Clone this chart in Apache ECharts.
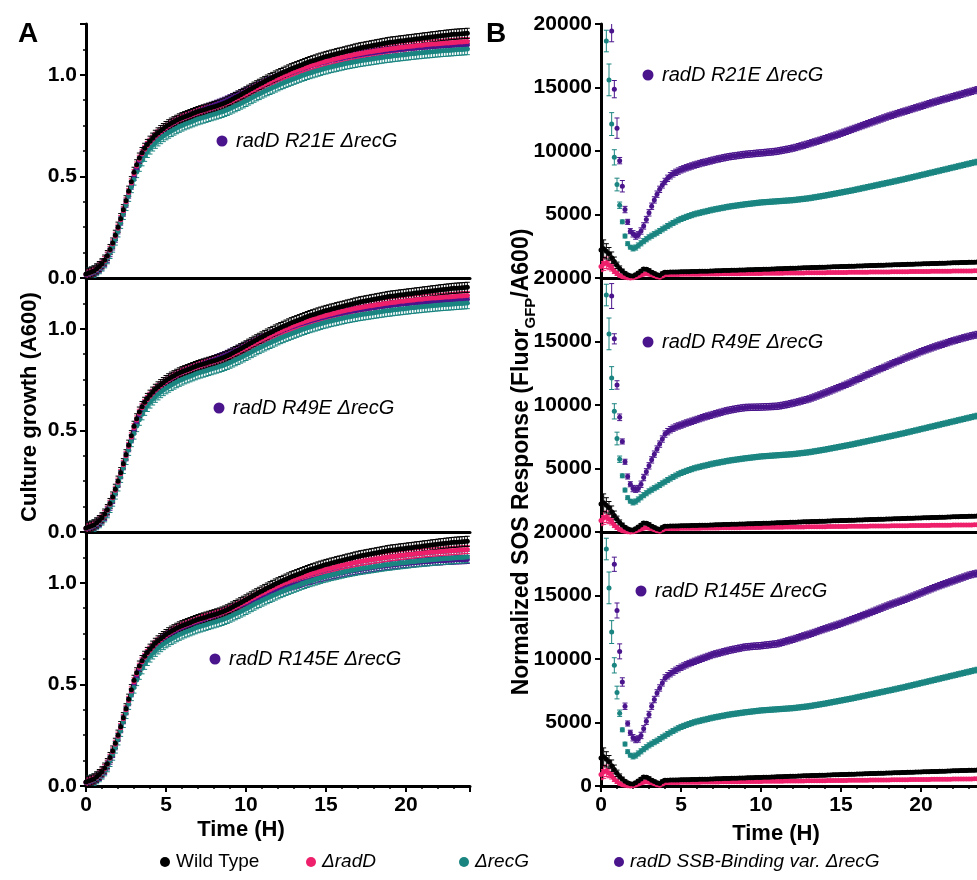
<!DOCTYPE html>
<html>
<head>
<meta charset="utf-8">
<script src="https://cdn.jsdelivr.net/npm/echarts@6/dist/echarts.min.js"></script>
<style>
  html, body { margin: 0; padding: 0; background: #fff; }
  #chart { width: 977px; height: 880px; }
</style>
</head>
<body>
<div id="chart"></div>
<script>
// sampling times (minutes), one reading every 10 min
const minutes = [
  0,10,20,30,40,50,60,70,80,90,
  100,110,120,130,140,150,160,170,180,190,
  200,210,220,230,240,250,260,270,280,290,
  300,310,320,330,340,350,360,370,380,390,
  400,410,420,430,440,450,460,470,480,490,
  500,510,520,530,540,550,560,570,580,590,
  600,610,620,630,640,650,660,670,680,690,
  700,710,720,730,740,750,760,770,780,790,
  800,810,820,830,840,850,860,870,880,890,
  900,910,920,930,940,950,960,970,980,990,
  1000,1010,1020,1030,1040,1050,1060,1070,1080,1090,
  1100,1110,1120,1130,1140,1150,1160,1170,1180,1190,
  1200,1210,1220,1230,1240,1250,1260,1270,1280,1290,
  1300,1310,1320,1330,1340,1350,1360,1370,1380,1390,
  1400,1410,1420,1430
];

const seriesNames = ["Wild Type", "ΔradD", "ΔrecG", "radD SSB-Binding var. ΔrecG"];
const variantNames = ["radD R21E ΔrecG", "radD R49E ΔrecG", "radD R145E ΔrecG"];

// ---- culture growth (A600) ----
const growthWT = [
  0.020,0.024,0.029,0.035,0.045,0.056,0.070,0.088,0.110,0.140,
  0.172,0.210,0.250,0.292,0.336,0.380,0.427,0.474,0.520,0.557,
  0.590,0.617,0.638,0.657,0.673,0.688,0.702,0.714,0.725,0.735,
  0.745,0.754,0.762,0.769,0.776,0.783,0.789,0.794,0.799,0.804,
  0.809,0.814,0.819,0.823,0.827,0.831,0.835,0.839,0.843,0.847,
  0.851,0.856,0.861,0.867,0.874,0.881,0.888,0.895,0.902,0.909,
  0.916,0.924,0.931,0.939,0.946,0.953,0.960,0.967,0.974,0.981,
  0.987,0.994,1.000,1.006,1.012,1.018,1.024,1.030,1.035,1.040,
  1.045,1.050,1.055,1.060,1.065,1.069,1.073,1.078,1.082,1.086,
  1.090,1.093,1.097,1.100,1.104,1.107,1.110,1.113,1.117,1.120,
  1.123,1.127,1.130,1.133,1.135,1.138,1.140,1.143,1.145,1.148,
  1.150,1.153,1.155,1.158,1.160,1.162,1.163,1.165,1.167,1.168,
  1.170,1.172,1.173,1.175,1.177,1.178,1.180,1.182,1.183,1.185,
  1.187,1.188,1.190,1.192,1.193,1.195,1.196,1.198,1.199,1.200,
  1.201,1.202,1.203,1.204
];
const growthRadD = [
  0.019,0.023,0.028,0.034,0.043,0.054,0.068,0.085,0.107,0.136,
  0.168,0.205,0.245,0.287,0.331,0.375,0.421,0.468,0.513,0.551,
  0.584,0.611,0.633,0.652,0.668,0.683,0.697,0.709,0.720,0.731,
  0.741,0.750,0.758,0.766,0.773,0.780,0.786,0.791,0.796,0.801,
  0.806,0.811,0.816,0.820,0.824,0.828,0.832,0.836,0.840,0.844,
  0.848,0.852,0.857,0.862,0.868,0.874,0.881,0.887,0.894,0.900,
  0.907,0.914,0.921,0.928,0.935,0.941,0.948,0.954,0.961,0.967,
  0.973,0.979,0.985,0.991,0.996,1.002,1.007,1.012,1.017,1.022,
  1.027,1.031,1.036,1.040,1.044,1.048,1.052,1.056,1.060,1.063,
  1.067,1.070,1.073,1.077,1.080,1.083,1.086,1.089,1.092,1.094,
  1.097,1.100,1.102,1.105,1.107,1.110,1.112,1.114,1.116,1.118,
  1.120,1.122,1.124,1.126,1.128,1.130,1.131,1.133,1.135,1.136,
  1.138,1.139,1.141,1.142,1.144,1.145,1.146,1.148,1.149,1.150,
  1.151,1.152,1.153,1.154,1.155,1.156,1.157,1.158,1.159,1.160,
  1.161,1.162,1.163,1.164
];
const growthRecG = [
  0.018,0.021,0.026,0.031,0.039,0.049,0.062,0.078,0.098,0.124,
  0.155,0.190,0.230,0.272,0.316,0.360,0.405,0.448,0.485,0.522,
  0.553,0.580,0.602,0.621,0.638,0.653,0.666,0.678,0.689,0.699,
  0.708,0.716,0.724,0.731,0.738,0.745,0.751,0.757,0.762,0.767,
  0.772,0.777,0.782,0.786,0.790,0.794,0.798,0.802,0.806,0.810,
  0.814,0.818,0.823,0.828,0.834,0.840,0.846,0.852,0.859,0.865,
  0.872,0.879,0.886,0.893,0.900,0.906,0.913,0.919,0.925,0.931,
  0.937,0.943,0.949,0.955,0.960,0.966,0.971,0.976,0.981,0.986,
  0.991,0.996,1.000,1.005,1.009,1.013,1.017,1.021,1.025,1.029,
  1.032,1.036,1.039,1.042,1.045,1.048,1.051,1.054,1.057,1.059,
  1.062,1.064,1.067,1.069,1.071,1.073,1.075,1.077,1.079,1.081,
  1.083,1.085,1.087,1.089,1.090,1.092,1.094,1.095,1.097,1.098,
  1.100,1.101,1.103,1.104,1.106,1.107,1.108,1.110,1.111,1.112,
  1.113,1.115,1.116,1.117,1.118,1.119,1.120,1.121,1.122,1.123,
  1.124,1.125,1.126,1.127
];
const growthR21E = [
  0.015,0.018,0.022,0.028,0.036,0.046,0.059,0.076,0.097,0.125,
  0.158,0.196,0.237,0.280,0.324,0.368,0.413,0.457,0.500,0.540,
  0.575,0.604,0.627,0.647,0.664,0.680,0.694,0.707,0.719,0.730,
  0.740,0.749,0.758,0.766,0.773,0.780,0.787,0.793,0.799,0.805,
  0.810,0.815,0.820,0.825,0.830,0.835,0.840,0.845,0.850,0.855,
  0.860,0.865,0.870,0.876,0.882,0.888,0.894,0.900,0.906,0.912,
  0.918,0.924,0.930,0.936,0.942,0.948,0.954,0.960,0.966,0.972,
  0.977,0.983,0.988,0.993,0.998,1.003,1.008,1.013,1.018,1.022,
  1.027,1.031,1.035,1.039,1.043,1.047,1.051,1.054,1.058,1.061,
  1.064,1.068,1.071,1.074,1.077,1.079,1.082,1.085,1.087,1.090,
  1.092,1.094,1.097,1.099,1.101,1.103,1.105,1.107,1.109,1.111,
  1.113,1.114,1.116,1.118,1.119,1.121,1.122,1.124,1.125,1.126,
  1.128,1.129,1.130,1.131,1.132,1.133,1.134,1.135,1.136,1.137,
  1.138,1.139,1.140,1.141,1.142,1.142,1.143,1.144,1.145,1.145,
  1.146,1.147,1.147,1.148
];
const growthR49E = [
  0.016,0.019,0.023,0.029,0.037,0.047,0.060,0.077,0.099,0.127,
  0.160,0.198,0.239,0.282,0.326,0.370,0.415,0.459,0.502,0.541,
  0.576,0.605,0.628,0.648,0.665,0.680,0.694,0.707,0.718,0.729,
  0.739,0.748,0.757,0.765,0.772,0.779,0.786,0.792,0.798,0.803,
  0.808,0.813,0.818,0.823,0.828,0.833,0.838,0.843,0.848,0.853,
  0.858,0.863,0.868,0.874,0.880,0.886,0.892,0.898,0.904,0.910,
  0.916,0.922,0.928,0.934,0.940,0.946,0.952,0.957,0.963,0.968,
  0.974,0.979,0.984,0.989,0.994,0.999,1.004,1.009,1.013,1.018,
  1.022,1.026,1.030,1.034,1.038,1.042,1.046,1.049,1.053,1.056,
  1.059,1.063,1.066,1.069,1.072,1.074,1.077,1.080,1.082,1.085,
  1.087,1.089,1.092,1.094,1.096,1.098,1.100,1.102,1.104,1.106,
  1.108,1.110,1.111,1.113,1.115,1.116,1.118,1.119,1.121,1.122,
  1.123,1.125,1.126,1.127,1.128,1.129,1.130,1.131,1.132,1.133,
  1.134,1.135,1.136,1.137,1.138,1.139,1.140,1.140,1.141,1.142,
  1.143,1.143,1.144,1.145
];
const growthR145E = [
  0.016,0.019,0.023,0.029,0.037,0.047,0.060,0.077,0.099,0.127,
  0.160,0.198,0.239,0.282,0.326,0.370,0.415,0.459,0.502,0.541,
  0.576,0.605,0.628,0.648,0.665,0.680,0.694,0.706,0.717,0.727,
  0.736,0.745,0.753,0.760,0.767,0.774,0.780,0.786,0.791,0.796,
  0.801,0.806,0.811,0.815,0.820,0.824,0.829,0.833,0.838,0.842,
  0.847,0.852,0.857,0.862,0.867,0.873,0.878,0.884,0.890,0.895,
  0.901,0.906,0.912,0.917,0.923,0.928,0.933,0.938,0.943,0.948,
  0.953,0.958,0.963,0.967,0.972,0.976,0.981,0.985,0.989,0.993,
  0.997,1.001,1.005,1.009,1.012,1.016,1.019,1.023,1.026,1.029,
  1.032,1.035,1.038,1.041,1.044,1.047,1.049,1.052,1.054,1.057,
  1.059,1.061,1.064,1.066,1.068,1.070,1.072,1.074,1.076,1.078,
  1.080,1.081,1.083,1.085,1.086,1.088,1.089,1.091,1.092,1.094,
  1.095,1.096,1.097,1.099,1.100,1.101,1.102,1.103,1.104,1.105,
  1.106,1.107,1.108,1.108,1.109,1.110,1.111,1.111,1.112,1.113,
  1.113,1.114,1.114,1.115
];
// SD of growth readings (A600), per strain: WT, radD, recG, variant
const growthSD = [0.025, 0.02, 0.028, 0.02];

// ---- normalized SOS response (Fluor GFP / A600) ----
const sosWT = [
  2200,2300,2100,1900,1600,1300,1000,750,550,380,
  250,170,150,250,400,550,700,680,600,450,
  350,250,200,350,450,460,465,470,475,480,
  485,490,495,500,505,510,515,522,528,535,
  541,548,555,562,568,575,582,588,595,602,
  608,615,622,628,635,642,648,655,662,668,
  675,682,690,698,706,714,722,730,738,746,
  754,762,770,777,784,791,798,805,812,819,
  826,833,840,847,855,862,869,876,883,890,
  897,904,911,918,925,932,940,947,954,961,
  968,975,982,989,996,1003,1010,1017,1024,1031,
  1038,1045,1052,1059,1066,1073,1080,1087,1094,1101,
  1108,1115,1122,1129,1136,1143,1150,1157,1164,1171,
  1178,1185,1192,1199,1206,1213,1220,1227,1234,1240,
  1246,1252,1258,1264
];
const sosRadD = [
  900,1100,1200,1000,800,550,350,200,100,50,
  20,0,20,80,150,230,300,330,300,250,
  180,100,60,150,250,270,275,278,281,284,
  287,290,292,295,297,300,302,305,307,310,
  312,315,317,320,322,325,327,330,332,335,
  337,340,342,345,347,350,352,355,357,360,
  362,365,367,370,372,375,377,380,382,385,
  387,390,392,395,397,400,402,405,407,410,
  412,415,417,420,422,425,427,430,432,435,
  437,440,442,445,447,450,452,455,457,460,
  462,465,467,470,472,475,477,480,482,485,
  487,490,492,495,497,500,502,505,507,510,
  512,515,517,520,522,525,527,530,532,535,
  537,540,542,545,547,550,552,555,557,560,
  562,565,567,570
];
const sosRecG = [
  null,null,18660,15600,12120,9500,7360,5730,4420,3300,
  2700,2430,2330,2400,2560,2730,2900,3050,3200,3330,
  3450,3570,3700,3830,3960,4090,4210,4330,4440,4550,
  4650,4730,4810,4880,4950,5020,5080,5130,5180,5230,
  5280,5330,5380,5420,5460,5500,5540,5580,5620,5650,
  5680,5710,5740,5770,5800,5825,5850,5875,5900,5925,
  5950,5965,5980,5995,6010,6025,6040,6055,6070,6085,
  6100,6115,6130,6155,6180,6205,6230,6255,6280,6315,
  6350,6385,6420,6455,6490,6530,6570,6610,6650,6690,
  6730,6770,6810,6850,6890,6935,6980,7025,7070,7115,
  7160,7205,7250,7295,7340,7385,7430,7475,7520,7565,
  7610,7660,7705,7750,7800,7850,7900,7950,8000,8050,
  8100,8150,8200,8250,8300,8350,8400,8450,8500,8550,
  8600,8650,8700,8750,8800,8850,8900,8950,9000,9050,
  9100,9150,9200,9250
];
const sosR21E = [
  null,null,null,null,19450,14870,11800,9240,7225,5390,
  4420,3690,3480,3300,3400,3700,4100,4600,5130,5650,
  6150,6600,6980,7330,7600,7850,8050,8200,8320,8420,
  8520,8600,8680,8750,8820,8890,8950,9010,9070,9120,
  9170,9220,9280,9330,9375,9420,9465,9510,9550,9580,
  9610,9640,9670,9700,9730,9750,9770,9790,9810,9830,
  9850,9870,9890,9910,9930,9955,9980,10020,10060,10100,
  10140,10180,10230,10280,10340,10400,10460,10520,10580,10645,
  10710,10775,10840,10905,10970,11040,11110,11180,11250,11320,
  11400,11475,11550,11625,11700,11775,11850,11925,12000,12075,
  12150,12225,12300,12375,12450,12525,12600,12675,12750,12815,
  12880,12945,13010,13075,13140,13205,13270,13335,13400,13465,
  13530,13595,13660,13725,13790,13855,13920,13980,14040,14100,
  14160,14220,14280,14340,14400,14460,14520,14580,14640,14700,
  14760,14820,14880,14940
];
const sosR49E = [
  null,null,null,null,18580,15210,11580,9030,7130,5530,
  4370,3760,3420,3370,3420,3760,4290,4740,5210,5680,
  6130,6530,6920,7320,7710,7900,8050,8170,8270,8350,
  8420,8500,8580,8650,8720,8790,8860,8930,9000,9070,
  9130,9190,9250,9310,9370,9430,9490,9540,9590,9630,
  9670,9710,9740,9770,9800,9810,9815,9820,9825,9830,
  9840,9850,9860,9870,9880,9890,9900,9935,9970,10010,
  10050,10100,10150,10200,10250,10310,10370,10420,10480,10555,
  10630,10710,10790,10870,10950,11030,11110,11195,11280,11365,
  11450,11540,11630,11720,11810,11905,12000,12100,12200,12300,
  12400,12500,12600,12690,12780,12870,12960,13055,13150,13240,
  13330,13420,13510,13605,13700,13780,13860,13940,14020,14110,
  14200,14275,14350,14425,14500,14575,14650,14715,14780,14850,
  14915,14985,15050,15110,15170,15230,15290,15345,15400,15450,
  15500,15550,15600,15650
];
const sosR145E = [
  null,null,null,null,null,17460,13820,10600,8190,6280,
  4920,4190,3800,3660,3700,3980,4500,5100,5630,6280,
  6810,7330,7720,8120,8510,8680,8840,8980,9110,9230,
  9350,9450,9545,9640,9730,9815,9900,9975,10050,10125,
  10200,10275,10350,10405,10460,10515,10570,10625,10680,10725,
  10770,10815,10855,10900,10940,10960,10980,11000,11015,11030,
  11050,11075,11100,11125,11150,11175,11200,11255,11310,11370,
  11430,11490,11550,11615,11680,11750,11820,11885,11950,12020,
  12090,12165,12240,12310,12380,12450,12520,12590,12660,12730,
  12800,12875,12950,13025,13100,13175,13250,13335,13420,13500,
  13585,13665,13750,13835,13920,14000,14085,14165,14250,14325,
  14400,14475,14550,14625,14700,14785,14870,14950,15035,15115,
  15200,15285,15370,15450,15535,15615,15700,15775,15850,15925,
  16000,16075,16150,16225,16300,16375,16450,16525,16600,16650,
  16700,16750,16800,16850
];
// SD of SOS readings: first readings listed, later readings use the tail value
const sosSDWT = [600,700,600,500,450,350,250,200,150,100,100,100];
const sosSDRadD = [400,500,450,350,250,200,150,100,80,60,60,60];
const sosSDRecG = [0,0,850,1250,900,600,500,250,150,150,150,150];
const sosSDR21E = [0,0,0,0,850,680,800,250,450,250,200,200];
const sosSDR49E = [0,0,0,0,980,400,330,260,200,200,200,200];
const sosSDR145E = [0,0,0,0,0,560,590,590,330,250,200,200];
const sosSDTail = [120, 80, 200, 250];

const COLORS = ["#000000", "#ee1f6b", "#1a8580", "#4a148c"];
const FONT = "Liberation Sans, Arial, sans-serif";
const TOPS = [24, 278, 532];
const PH = 254;

const chart = echarts.init(document.getElementById("chart"));

function errorBar(params, api) {
  const x = api.value(0);
  const p1 = api.coord([x, api.value(1)]);
  const p2 = api.coord([x, api.value(2)]);
  const w = 2.5;
  const style = { stroke: api.visual("color"), lineWidth: 1 };
  return {
    type: "group",
    children: [
      { type: "line", shape: { x1: p1[0], y1: p1[1], x2: p2[0], y2: p2[1] }, style: style },
      { type: "line", shape: { x1: p1[0] - w, y1: p1[1], x2: p1[0] + w, y2: p1[1] }, style: style },
      { type: "line", shape: { x1: p2[0] - w, y1: p2[1], x2: p2[0] + w, y2: p2[1] }, style: style }
    ]
  };
}

const series = [];
function addStrain(gi, values, sdHead, sdTail, color) {
  const pts = [];
  const bars = [];
  values.forEach((v, k) => {
    if (v == null) return;
    const t = minutes[k] / 60;
    const sd = k < sdHead.length ? sdHead[k] : sdTail;
    pts.push([t, v]);
    bars.push([t, v - sd, v + sd]);
  });
  series.push({
    type: "custom", xAxisIndex: gi, yAxisIndex: gi, clip: true, silent: true,
    renderItem: errorBar, encode: { x: 0, y: [1, 2] },
    itemStyle: { color: color }, data: bars
  });
  series.push({
    type: "scatter", xAxisIndex: gi, yAxisIndex: gi, clip: true, silent: true,
    symbolSize: 5, itemStyle: { color: color, opacity: 1 }, data: pts
  });
}

const growthVariants = [growthR21E, growthR49E, growthR145E];
const sosVariants = [sosR21E, sosR49E, sosR145E];
const sosSDVariants = [sosSDR21E, sosSDR49E, sosSDR145E];

for (let i = 0; i < 3; i++) {
  // left column: growth; variant first so wild type ends on top
  addStrain(i, growthVariants[i], [], growthSD[3], COLORS[3]);
  addStrain(i, growthRecG, [], growthSD[2], COLORS[2]);
  addStrain(i, growthRadD, [], growthSD[1], COLORS[1]);
  addStrain(i, growthWT, [], growthSD[0], COLORS[0]);
  // right column: SOS
  addStrain(3 + i, sosVariants[i], sosSDVariants[i], sosSDTail[3], COLORS[3]);
  addStrain(3 + i, sosRecG, sosSDRecG, sosSDTail[2], COLORS[2]);
  addStrain(3 + i, sosRadD, sosSDRadD, sosSDTail[1], COLORS[1]);
  addStrain(3 + i, sosWT, sosSDWT, sosSDTail[0], COLORS[0]);
}

const grids = [], xAxes = [], yAxes = [];
const tickFont = { color: "#000", fontFamily: FONT, fontWeight: "bold", fontSize: 21 };
for (let c = 0; c < 2; c++) {
  for (let i = 0; i < 3; i++) {
    const bottom = i === 2;
    grids.push({ left: c === 0 ? 86 : 601, top: TOPS[i], width: 384, height: PH, outerBoundsMode: "none", containLabel: false });
    xAxes.push({
      type: "value", gridIndex: grids.length - 1, min: 0, max: 24, interval: 5,
      axisLine: { show: true, lineStyle: { color: "#000", width: 3 } },
      axisTick: { show: bottom, length: 6, lineStyle: { width: 2, color: "#000" } },
      minorTick: { show: bottom, splitNumber: 5, length: 3, lineStyle: { width: 1.5, color: "#000" } },
      axisLabel: Object.assign({ show: bottom, margin: 9, showMaxLabel: false }, tickFont),
      splitLine: { show: false }
    });
    if (c === 0) {
      yAxes.push({
        type: "value", gridIndex: grids.length - 1, min: 0, max: 1.25, interval: 0.5,
        axisLine: { show: true, lineStyle: { color: "#000", width: 3 } },
        axisTick: { show: true, length: 6, lineStyle: { width: 2, color: "#000" } },
        minorTick: { show: true, splitNumber: 4, length: 3, lineStyle: { width: 1.5, color: "#000" } },
        axisLabel: Object.assign({ margin: 9, showMaxLabel: false, formatter: v => v.toFixed(1) }, tickFont),
        splitLine: { show: false }
      });
    } else {
      yAxes.push({
        type: "value", gridIndex: grids.length - 1, min: 0, max: 20000, interval: 5000,
        axisLine: { show: true, lineStyle: { color: "#000", width: 3 } },
        axisTick: { show: true, length: 6, lineStyle: { width: 2, color: "#000" } },
        axisLabel: Object.assign({ margin: 9, showMinLabel: bottom, formatter: v => String(v) }, tickFont),
        splitLine: { show: false }
      });
    }
  }
}

// in-panel labels: dot + variant name
const growthLabelPos = [[222, 141], [219, 408], [215, 659]];
const sosLabelPos = [[648, 75], [648, 342], [641, 591]];
const graphics = [];
function tag(x, y, text) {
  graphics.push({ type: "circle", shape: { cx: x, cy: y, r: 5.5 }, style: { fill: COLORS[3] } });
  graphics.push({
    type: "text", x: x + 14, y: y,
    style: { text: text, font: "italic 20px " + FONT, fill: "#000", textAlign: "left", textVerticalAlign: "middle", align: "left", verticalAlign: "middle" }
  });
}
for (let i = 0; i < 3; i++) {
  tag(growthLabelPos[i][0], growthLabelPos[i][1], variantNames[i]);
  tag(sosLabelPos[i][0], sosLabelPos[i][1], variantNames[i]);
}

function plainText(x, y, text, font, rot) {
  graphics.push({
    type: "text", x: x, y: y, rotation: rot || 0,
    style: { text: text, font: font, fill: "#000", textAlign: "center", textVerticalAlign: "middle", align: "center", verticalAlign: "middle" }
  });
}
plainText(28, 34, "A", "bold 28px " + FONT);
plainText(496, 34, "B", "bold 28px " + FONT);
plainText(30, 407, "Culture growth (A600)", "bold 22px " + FONT, Math.PI / 2);
plainText(241, 830, "Time (H)", "bold 22px " + FONT);
plainText(776, 834, "Time (H)", "bold 22px " + FONT);
graphics.push({
  type: "text", x: 522, y: 462, rotation: Math.PI / 2,
  style: {
    text: "{a|Normalized SOS Response (Fluor}{s|GFP}{a|/A600)}",
    fill: "#000", align: "center", verticalAlign: "middle", textAlign: "center", textVerticalAlign: "middle",
    rich: {
      a: { fontFamily: FONT, fontWeight: "bold", fontSize: 23, lineHeight: 32, verticalAlign: "middle" },
      s: { fontFamily: FONT, fontWeight: "bold", fontSize: 15, lineHeight: 32, verticalAlign: "bottom" }
    }
  }
});

// legend row
const legendX = [165, 311, 464, 619];
const legendItalic = [false, true, true, true];
for (let j = 0; j < 4; j++) {
  graphics.push({ type: "circle", shape: { cx: legendX[j], cy: 862, r: 5 }, style: { fill: COLORS[j] } });
  graphics.push({
    type: "text", x: legendX[j] + 11, y: 862,
    style: { text: seriesNames[j], font: (legendItalic[j] ? "italic " : "") + "19px " + FONT, fill: "#000", textAlign: "left", textVerticalAlign: "middle", align: "left", verticalAlign: "middle" }
  });
}

chart.setOption({
  animation: false,
  backgroundColor: "#fff",
  grid: grids,
  xAxis: xAxes,
  yAxis: yAxes,
  series: series,
  graphic: graphics
});
</script>
</body>
</html>
